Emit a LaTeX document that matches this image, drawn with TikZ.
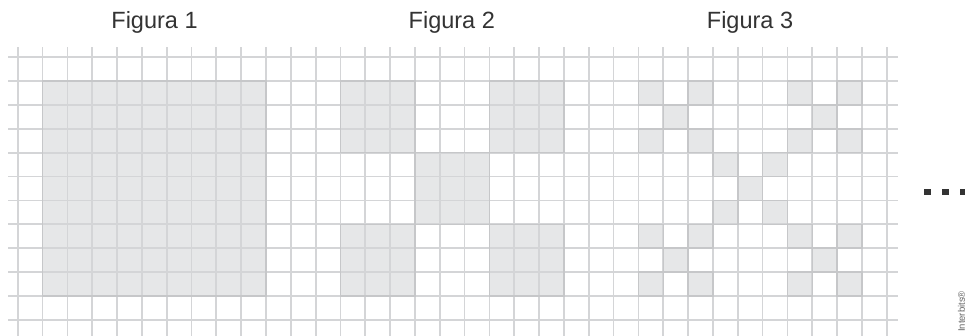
\documentclass[tikz,border=0pt]{standalone}
\usepackage{fontspec}
\setmainfont{Liberation Sans}
\definecolor{gridc}{RGB}{212,213,215}
\definecolor{cellc}{RGB}{230,231,232}
\definecolor{edgec}{RGB}{198,199,201}
\definecolor{txtc}{RGB}{51,51,51}
\tikzset{
  gridline/.style={draw=gridc, line width=1.7pt},
  cellfill/.style={fill=cellc},
  celledge/.style={draw=edgec, line width=1.5pt},
  figtitle/.style={anchor=base, text=txtc, inner sep=0pt, font=\fontsize{23.5}{28}\selectfont},
  dotsq/.style={fill=txtc},
  credit/.style={rotate=90, text=black!60, inner sep=0pt, font=\fontsize{9.5}{11}\selectfont}
}
\begin{document}
\begin{tikzpicture}[x=1pt,y=-1pt]
\useasboundingbox (0,0) rectangle (965,335);
\fill[white] (0,0) rectangle (965,335);
\begin{scope}[shift={(17.7,57.3)}, x=24.83pt, y=-23.85pt]
  % Figure 1
  \fill[cellfill] (1,1) rectangle (10,10);
  % Figure 2
  \foreach \c/\r in {13/1,19/1,16/4,13/7,19/7}
    \fill[cellfill] (\c,\r) rectangle ++(3,3);
  % Figure 3
  \foreach \c/\r in {25/1,31/1,28/4,25/7,31/7}{
    \foreach \dc/\dr in {0/0,2/0,1/1,0/2,2/2}
      \fill[cellfill] (\c+\dc,\r+\dr) rectangle ++(1,1);
  }
  % grid
  \foreach \i in {0,...,35}
    \draw[gridline] (\i,-0.43) -- (\i,11.8);
  \foreach \j in {0,...,11}
    \draw[gridline] (-0.39,\j) -- (35.45,\j);
  % edges of shaded parts
  \draw[celledge] (1,1) rectangle (10,10);
  \foreach \c/\r in {13/1,19/1,16/4,13/7,19/7}
    \draw[celledge] (\c,\r) rectangle ++(3,3);
  \foreach \c/\r in {25/1,31/1,28/4,25/7,31/7}{
    \foreach \dc/\dr in {0/0,2/0,1/1,0/2,2/2}
      \draw[celledge] (\c+\dc,\r+\dr) rectangle ++(1,1);
  }
\end{scope}
% titles
\node[figtitle] (t1) at (154.5,28.3) {Figura 1};
\node[figtitle] (t2) at (451.8,28.3) {Figura 2};
\node[figtitle] (t3) at (750,28.3) {Figura 3};
% continuation dots
\fill[dotsq] (924,189.3) rectangle ++(7,6);
\fill[dotsq] (942,189.3) rectangle ++(7,6);
\fill[dotsq] (960,189.3) rectangle ++(7,6);
% credit
\node[credit] (cr) at (961.5,311.5) {Interbits®};
\end{tikzpicture}
\end{document}
